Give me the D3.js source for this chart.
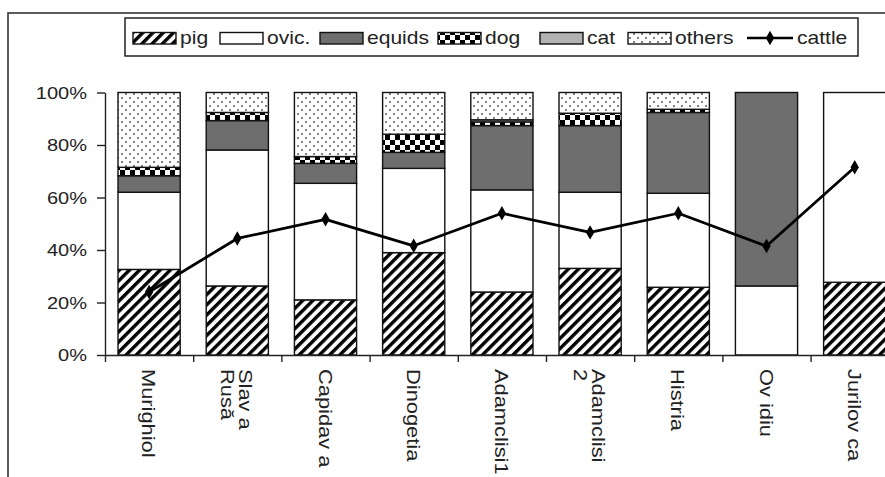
<!DOCTYPE html>
<html>
<head>
<meta charset="utf-8">
<script src="https://cdn.jsdelivr.net/npm/d3@7"></script>
<style>
  html, body { margin: 0; padding: 0; background: #fff; }
  svg { display: block; font-family: "Liberation Sans", Arial, sans-serif; }
</style>
</head>
<body>
<svg id="chart" width="885" height="477"></svg>
<script>
// Sites (category axis); "\n" marks a wrapped label line
const sites = ["Murighiol", "Slav a\nRusă", "Capidav a", "Dinogetia", "Adamclisi1",
               "Adamclisi\n2", "Histria", "Ov idiu", "Jurilov ca"];

// Share of remains per taxon, in percent
const pig    = [32.6, 26.3, 21.0, 39.0, 24.0, 33.0, 25.8,  0.0, 27.7];
const ovic   = [29.4, 51.8, 44.4, 32.1, 38.9, 29.0, 35.8, 26.3, 72.3];
const equids = [ 6.3, 11.2,  7.6,  6.1, 24.5, 25.4, 30.8, 73.7,  0.0];
const dog    = [ 3.2,  3.1,  2.6,  6.9,  1.4,  4.7,  1.2,  0.0,  0.0];
const cat    = [ 0.0,  0.0,  0.0,  0.0,  0.8,  0.0,  0.0,  0.0,  0.0];
const others = [28.5,  7.6, 24.4, 15.9, 10.4,  7.9,  6.4,  0.0,  0.0];

// Cattle share, drawn as a line over the stacks
const cattle = [24.0, 44.4, 51.7, 41.6, 54.0, 46.7, 54.0, 41.5, 71.5];

const yTicks = [0, 20, 40, 60, 80, 100];

const seriesNames = ["pig", "ovic.", "equids", "dog", "cat", "others"];
const seriesData  = [pig, ovic, equids, dog, cat, others];

const svg = d3.select("#chart");
const defs = svg.append("defs");

// Fill patterns
const hatch = defs.append("pattern").attr("id", "p-pig")
  .attr("patternUnits", "userSpaceOnUse").attr("width", 7.2).attr("height", 7.2)
  .attr("patternTransform", "rotate(45)");
hatch.append("rect").attr("width", 7.2).attr("height", 7.2).attr("fill", "#fff");
hatch.append("rect").attr("x", 0).attr("width", 3.4).attr("height", 7.2).attr("fill", "#000");

const checker = defs.append("pattern").attr("id", "p-dog")
  .attr("patternUnits", "userSpaceOnUse").attr("width", 10).attr("height", 10);
checker.append("rect").attr("width", 10).attr("height", 10).attr("fill", "#fff");
checker.append("rect").attr("width", 5).attr("height", 5).attr("fill", "#000");
checker.append("rect").attr("x", 5).attr("y", 5).attr("width", 5).attr("height", 5).attr("fill", "#000");

const dots = defs.append("pattern").attr("id", "p-others")
  .attr("patternUnits", "userSpaceOnUse").attr("width", 8).attr("height", 8);
dots.append("rect").attr("width", 8).attr("height", 8).attr("fill", "#fff");
dots.append("circle").attr("cx", 2).attr("cy", 2).attr("r", 0.9).attr("fill", "#444");
dots.append("circle").attr("cx", 6).attr("cy", 6).attr("r", 0.9).attr("fill", "#444");

const fills = ["url(#p-pig)", "#fff", "#6e6e6e", "url(#p-dog)", "#b2b2b2", "url(#p-others)"];

// Outer chart frame
svg.append("rect").attr("x", 8).attr("y", 13).attr("width", 1000).attr("height", 1000)
  .attr("fill", "#fff").attr("stroke", "#333").attr("stroke-width", 1.6);

// Scales
const x0 = 105, step = 88.2;
const x = d3.scaleBand().domain(sites).range([x0, x0 + step * sites.length])
  .paddingInner(0.295).paddingOuter(0.1475);
const y = d3.scaleLinear().domain([0, 100]).range([355, 92.5]);
const xEdges = d3.scaleLinear().domain([0, sites.length]).range([x0, x0 + step * sites.length]);

// Stacked bars
const rows = sites.map((s, i) => {
  const r = { site: s };
  seriesNames.forEach((n, k) => { r[n] = seriesData[k][i]; });
  return r;
});
const stack = d3.stack().keys(seriesNames)(rows);

const barG = svg.append("g");
stack.forEach((layer, k) => {
  barG.append("g").selectAll("rect")
    .data(layer.filter(d => d[1] - d[0] > 0))
    .join("rect")
    .attr("x", d => x(d.data.site))
    .attr("width", x.bandwidth())
    .attr("y", d => y(d[1]))
    .attr("height", d => y(d[0]) - y(d[1]))
    .attr("fill", fills[k])
    .attr("stroke", "#111")
    .attr("stroke-width", 1.4);
});

// Y axis
const yAxis = svg.append("g").attr("transform", `translate(${x0},0)`)
  .call(d3.axisLeft(y).tickValues(yTicks).tickFormat(d => d + "%")
    .tickSize(8).tickSizeOuter(0).tickPadding(10));
yAxis.select(".domain").attr("stroke", "#222").attr("stroke-width", 1.4);
yAxis.selectAll(".tick line").attr("stroke", "#222").attr("stroke-width", 1.4);
yAxis.selectAll(".tick text")
  .attr("x", null).attr("dy", "0.36em")
  .attr("transform", "translate(-18,0) scale(1.25,1)")
  .attr("font-size", 16).attr("fill", "#222").attr("font-family", "Liberation Sans, Arial, sans-serif");

// X axis with ticks between categories
const xAxis = svg.append("g").attr("transform", "translate(0,355)")
  .call(d3.axisBottom(xEdges).tickValues(d3.range(0, sites.length + 1))
    .tickFormat("").tickSize(7).tickSizeOuter(0));
xAxis.select(".domain").attr("stroke", "#222").attr("stroke-width", 1.4);
xAxis.selectAll(".tick line").attr("stroke", "#222").attr("stroke-width", 1.4);

// Category labels, rotated to read downward
const lab = svg.append("g").selectAll("text").data(sites).join("text")
  .attr("transform", d => `translate(${x(d) + x.bandwidth() / 2},369) rotate(90) scale(1.15,1)`)
  .attr("font-size", 19).attr("fill", "#222");
lab.each(function (d) {
  const lines = d.split("\n");
  const n = lines.length;
  d3.select(this).selectAll("tspan").data(lines).join("tspan")
    .attr("x", 0)
    .attr("y", (l, i) => (i - (n - 1) / 2) * 18)
    .attr("dy", "0.36em")
    .text(l => l);
});

// Cattle line
const cx = d => x(d) + x.bandwidth() / 2;
svg.append("path")
  .datum(cattle)
  .attr("d", d3.line().x((v, i) => cx(sites[i])).y(v => y(v)))
  .attr("fill", "none").attr("stroke", "#000").attr("stroke-width", 2.8)
  .attr("stroke-linejoin", "round");
svg.append("g").selectAll("path").data(cattle).join("path")
  .attr("transform", (v, i) => `translate(${cx(sites[i])},${y(v)})`)
  .attr("d", d3.symbol(d3.symbolDiamond, 60))
  .attr("fill", "#000");

// Legend
const leg = svg.append("g");
leg.append("rect").attr("x", 125).attr("y", 18).attr("width", 733).attr("height", 38)
  .attr("fill", "#fff").attr("stroke", "#222").attr("stroke-width", 1.5);
const legX = [133, 220, 320, 438, 540, 628, 747];
seriesNames.forEach((n, k) => {
  leg.append("rect").attr("x", legX[k]).attr("y", 32.5).attr("width", 43).attr("height", 11.5)
    .attr("fill", fills[k]).attr("stroke", "#111").attr("stroke-width", 1.4);
  leg.append("text").attr("transform", `translate(${legX[k] + 47},44) scale(1.17,1)`)
    .attr("font-size", 18).attr("fill", "#222").text(n);
});
const lx = legX[6];
leg.append("line").attr("x1", lx).attr("x2", lx + 46).attr("y1", 38).attr("y2", 38)
  .attr("stroke", "#000").attr("stroke-width", 2.6);
leg.append("path").attr("transform", `translate(${lx + 23},38)`)
  .attr("d", d3.symbol(d3.symbolDiamond, 60)).attr("fill", "#000");
leg.append("text").attr("transform", `translate(${lx + 50},44) scale(1.17,1)`)
  .attr("font-size", 18).attr("fill", "#222").text("cattle");
</script>
</body>
</html>
